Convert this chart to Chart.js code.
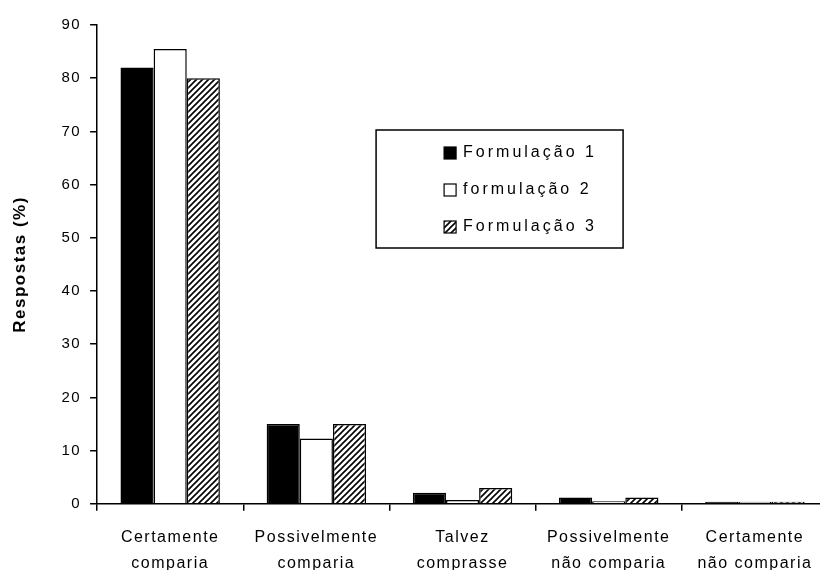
<!DOCTYPE html>
<html>
<head>
<meta charset="utf-8">
<script src="https://cdn.jsdelivr.net/npm/chart.js@4/dist/chart.umd.min.js"></script>
<style>
  body { margin: 0; background: #fff; overflow: hidden; }
  #wrap { width: 830px; height: 570px; }
</style>
</head>
<body>
<div id="wrap"><canvas id="chart" width="830" height="570"></canvas></div>
<script>
// data
const categories = [
  ['Certamente', 'comparia'],
  ['Possivelmente', 'comparia'],
  ['Talvez', 'comprasse'],
  ['Possivelmente', 'não comparia'],
  ['Certamente', 'não comparia']
];
const seriesNames = ['Formulação 1', 'formulação 2', 'Formulação 3'];
const formulacao1 = [82, 15, 2.1, 1.2, 0.4];
const formulacao2 = [85.5, 12.3, 0.7, 0.5, 0.4];
const formulacao3 = [80, 15, 3, 1.2, 0.4];
const yTicks = [0, 10, 20, 30, 40, 50, 60, 70, 80, 90];

const FONT = '"Liberation Sans", Arial, sans-serif';

// diagonal hatching for the third series
function makeHatch() {
  const c = document.createElement('canvas');
  c.width = 6; c.height = 6;
  const g = c.getContext('2d');
  g.fillStyle = '#fff';
  g.fillRect(0, 0, 6, 6);
  g.strokeStyle = '#000';
  g.lineWidth = 1.6;
  g.beginPath();
  g.moveTo(-1, 7); g.lineTo(7, -1);
  g.moveTo(-4, 4); g.lineTo(4, -4);
  g.moveTo(2, 10); g.lineTo(10, 2);
  g.stroke();
  return g.createPattern(c, 'repeat');
}
const hatch = makeHatch();

// the reference text is set with wide letter spacing
const spacing = {
  id: 'spacing',
  beforeUpdate(chart) { chart.ctx.letterSpacing = '1.5px'; },
  beforeDraw(chart) { chart.ctx.letterSpacing = '1.5px'; }
};

// legend drawn as a boxed panel inside the plot
const boxLegend = {
  id: 'boxLegend',
  afterDraw(chart) {
    const ctx = chart.ctx;
    const a = chart.chartArea;
    const x = a.left + 279, y = a.top + 105, w = 247, h = 118;
    ctx.save();
    ctx.strokeStyle = '#000';
    ctx.lineWidth = 1.5;
    ctx.strokeRect(x, y, w, h);
    ctx.font = '16px ' + FONT;
    ctx.letterSpacing = '3px';
    ctx.textBaseline = 'middle';
    chart.data.datasets.forEach((ds, i) => {
      const ry = y + 23 + i * 37;
      ctx.fillStyle = ds.backgroundColor;
      ctx.fillRect(x + 68, ry - 6, 12, 12);
      ctx.lineWidth = 1.2;
      ctx.strokeRect(x + 68, ry - 6, 12, 12);
      ctx.fillStyle = '#000';
      ctx.fillText(ds.label, x + 87, ry);
    });
    ctx.restore();
  }
};

const colors = ['#000000', '#ffffff', hatch];
const values = [formulacao1, formulacao2, formulacao3];

new Chart(document.getElementById('chart'), {
  type: 'bar',
  data: {
    labels: categories,
    datasets: seriesNames.map((name, i) => ({
      label: name,
      data: values[i],
      backgroundColor: colors[i],
      borderColor: '#000',
      borderWidth: 1.5,
      categoryPercentage: 0.68,
      barPercentage: 1.0
    }))
  },
  options: {
    responsive: false,
    animation: false,
    layout: { padding: { top: 25, right: 2, left: 10, bottom: -21 } },
    plugins: {
      legend: { display: false },
      tooltip: { enabled: false }
    },
    scales: {
      x: {
        grid: { offset: true, drawOnChartArea: false, drawTicks: true, tickLength: 7, color: '#000', lineWidth: 1.5 },
        border: { color: '#000', width: 1.5 },
        ticks: { color: '#000', font: { family: FONT, size: 16, lineHeight: 1.63 }, maxRotation: 0, autoSkip: false, padding: 14 }
      },
      y: {
        min: 0,
        max: 90,
        afterBuildTicks: (s) => { s.ticks = yTicks.map(v => ({ value: v })); },
        grid: { drawOnChartArea: false, drawTicks: true, tickLength: 7, color: '#000', lineWidth: 1.5 },
        border: { color: '#000', width: 1.5 },
        ticks: { color: '#000', font: { family: FONT, size: 15 }, padding: 9 },
        title: { display: true, text: 'Respostas (%)', color: '#000', font: { family: FONT, size: 17, weight: 'bold' }, padding: { top: 0, bottom: 22 } }
      }
    }
  },
  plugins: [spacing, boxLegend]
});
</script>
</body>
</html>
